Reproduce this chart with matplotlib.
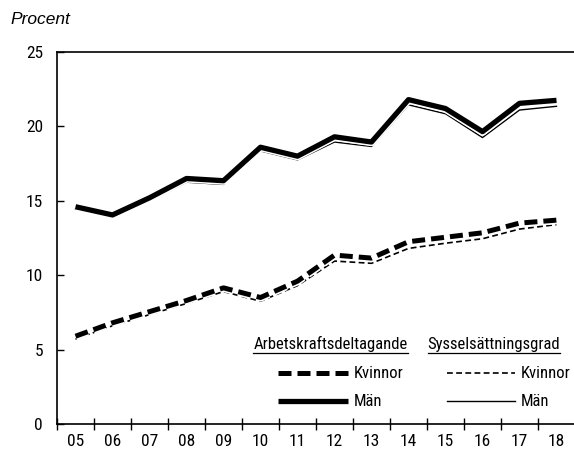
import matplotlib
matplotlib.use("Agg")
import matplotlib.pyplot as plt
import matplotlib.patheffects as pe
import numpy as np

# data
years = ["05", "06", "07", "08", "09", "10", "11", "12", "13", "14", "15", "16", "17", "18"]
akd_man = [14.6, 14.05, 15.2, 16.5, 16.35, 18.6, 18.0, 19.3, 18.95, 21.8, 21.2, 19.65, 21.55, 21.75]
ssg_man = [14.45, 13.85, 15.0, 16.25, 16.1, 18.35, 17.75, 18.95, 18.65, 21.45, 20.85, 19.25, 21.1, 21.35]
akd_kvinnor = [5.9, 6.8, 7.55, 8.3, 9.15, 8.5, 9.6, 11.35, 11.15, 12.25, 12.55, 12.85, 13.5, 13.7]
ssg_kvinnor = [5.7, 6.6, 7.35, 8.1, 8.9, 8.25, 9.3, 10.95, 10.8, 11.8, 12.15, 12.45, 13.1, 13.4]

narrow = ["Roboto Condensed", "DejaVu Sans"]
fs = 12.5
fs_leg = 12

fig = plt.figure(figsize=(5.74, 4.54), dpi=100)
ax = fig.add_axes([57 / 574, 30 / 454, 518 / 574, 372 / 454])

x = np.arange(len(years))
white_edge = [pe.Stroke(linewidth=6.0, foreground="white"), pe.Normal()]

ax.plot(x, ssg_man, color="black", lw=1.0)
ax.plot(x, akd_man, color="black", lw=3.8, solid_capstyle="butt", path_effects=white_edge)
ax.plot(x, ssg_kvinnor, color="black", lw=1.2, dashes=(3.5, 2.0))
ax.plot(x, akd_kvinnor, color="black", lw=3.6, dashes=(2.6, 1.2), path_effects=white_edge)

ax.set_xlim(-0.5, len(years) - 0.5)
ax.set_ylim(0, 25)
ax.set_yticks([0, 5, 10, 15, 20, 25])
ax.set_xticks(np.arange(-0.5, len(years) - 0.5, 1))
ax.set_xticklabels([])
ax.set_xticks(x, minor=True)
ax.set_xticklabels(years, minor=True, fontfamily=narrow, fontsize=fs)
ax.tick_params(axis="x", which="major", direction="inout", length=9, width=1)
ax.tick_params(axis="x", which="minor", length=0, pad=7)
ax.tick_params(axis="y", direction="in", length=5, width=1, pad=10)
for lab in ax.get_yticklabels():
    lab.set_fontfamily(narrow)
    lab.set_fontsize(fs)
for s in ax.spines.values():
    s.set_linewidth(1.2)

fig.text(10 / 574, 1 - 20 / 454, "Procent", fontsize=12.5, style="italic",
         family="Liberation Sans", va="center", ha="left")


def fy(py):
    return 1 - py / 454


# legend drawn by hand
def header(xc, yc, txt):
    t = fig.text(xc, yc, txt, ha="center", va="center", fontfamily=narrow, fontsize=fs_leg)
    fig.canvas.draw()
    bb = t.get_window_extent().transformed(fig.transFigure.inverted())
    fig.add_artist(plt.Line2D([bb.x0, bb.x1], [bb.y0 - 1.0 / 454] * 2, color="black",
                              lw=0.9, transform=fig.transFigure))


header(330.5 / 574, fy(344), "Arbetskraftsdeltagande")
header(494 / 574, fy(344), "Sysselsättningsgrad")

rows = [
    (278, 348, 373, dict(lw=3.6, dashes=(2.6, 1.2)), "Kvinnor"),
    (278, 348, 401, dict(lw=3.8, solid_capstyle="butt"), "Män"),
    (447, 515, 373, dict(lw=1.2, dashes=(3.5, 2.0)), "Kvinnor"),
    (447, 515, 401, dict(lw=1.0), "Män"),
]
for x0, x1, py, kw, lab in rows:
    fig.add_artist(plt.Line2D([x0 / 574, x1 / 574], [fy(py)] * 2, color="black",
                              transform=fig.transFigure, **kw))
    fig.text((x1 + 6) / 574, fy(py), lab, ha="left", va="center",
             fontfamily=narrow, fontsize=fs_leg)

fig.savefig("out.png", dpi=100)
